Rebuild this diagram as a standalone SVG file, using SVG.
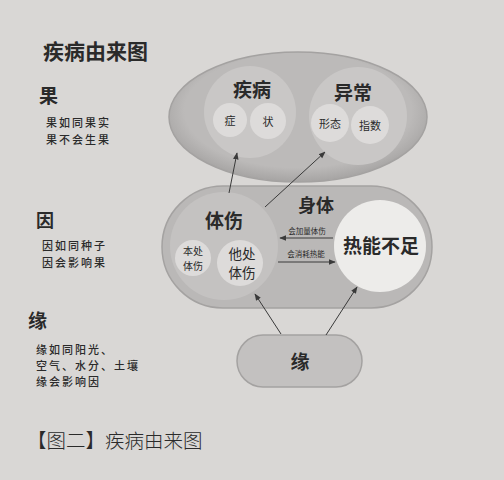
<svg xmlns="http://www.w3.org/2000/svg" width="504" height="480" viewBox="0 0 504 480">
<defs>
<style>
text{font-family:"Noto Sans CJK SC","Noto Sans",sans-serif;fill:#2a2a2a;text-anchor:middle}
.b{font-weight:700}
.l{text-anchor:start}
.d{font-size:11px;letter-spacing:2px;font-weight:500}
.mid{fill:#c9c7c6}
.sm{fill:#dddbda}
.conn{stroke:#3a3a3a;stroke-width:1;fill:none;marker-end:url(#ah)}
</style>
<marker id="ah" viewBox="0 0 10 10" refX="9" refY="5" markerWidth="7" markerHeight="7" orient="auto-start-reverse">
<path d="M0,1 L10,5 L0,9 z" fill="#3a3a3a"/>
</marker>
<radialGradient id="gTop" cx="50%" cy="45%" r="55%">
<stop offset="0.8" stop-color="#bcbab9"/>
<stop offset="1" stop-color="#a6a4a3"/>
</radialGradient>
</defs>
<rect width="504" height="480" fill="#d9d7d5"/>

<g id="legend">
<text class="l b" x="43" y="59" font-size="21" fill="#333">疾病由来图</text>
<text class="l b" x="39" y="103" font-size="19">果</text>
<text class="l d" x="46" y="127">果如同果实</text>
<text class="l d" x="46" y="144">果不会生果</text>
<text class="l b" x="36" y="227" font-size="18">因</text>
<text class="l d" x="42" y="250">因如同种子</text>
<text class="l d" x="42" y="267">因会影响果</text>
<text class="l b" x="28" y="328" font-size="19">缘</text>
<text class="l d" x="36" y="354" letter-spacing="1.5">缘如同阳光、</text>
<text class="l d" x="36" y="370" letter-spacing="1.5">空气、水分、土壤</text>
<text class="l d" x="36" y="386" letter-spacing="1.5">缘会影响因</text>
<text class="l" x="27" y="448" font-size="19.5" font-weight="300">【图二】疾病由来图</text>
</g>

<g id="node-guo">
<ellipse cx="298" cy="117" rx="129" ry="65" fill="url(#gTop)" stroke="#a4a2a1" stroke-width="1.5"/>
</g>
<g id="node-jibing">
<circle class="mid" cx="250" cy="112" r="46"/>
<text class="b" x="252" y="97" font-size="19">疾病</text>
<circle class="sm" cx="230" cy="120" r="17"/>
<text x="230" y="125" font-size="11">症</text>
<circle class="sm" cx="268" cy="121" r="18"/>
<text x="268" y="126" font-size="11">状</text>
</g>
<g id="node-yichang">
<circle class="mid" cx="358" cy="116" r="49"/>
<text class="b" x="353" y="100" font-size="19">异常</text>
<circle class="sm" cx="330" cy="123" r="19"/>
<text x="330" y="128" font-size="11">形态</text>
<circle class="sm" cx="370" cy="125" r="19"/>
<text x="370" y="130" font-size="11">指数</text>
</g>

<g id="node-yin">
<rect x="162" y="186" width="270" height="122" rx="61" fill="#bab8b7" stroke="#a4a2a1" stroke-width="1.5"/>
<text class="b" x="316" y="212" font-size="18">身体</text>
</g>
<g id="node-tishang">
<circle cx="224" cy="246" r="54" fill="#c4c2c1"/>
<text class="b" x="224" y="228" font-size="19">体伤</text>
<circle class="sm" cx="193" cy="258" r="18"/>
<text x="193" y="255" font-size="10">本处</text>
<text x="193" y="270" font-size="10">体伤</text>
<circle class="sm" cx="240" cy="263" r="23"/>
<text x="242" y="258.5" font-size="13.5">他处</text>
<text x="242" y="278" font-size="13.5">体伤</text>
</g>
<g id="node-reneng">
<circle cx="380" cy="246" r="46" fill="#edecea"/>
<text class="b" x="381" y="253" font-size="19">热能不足</text>
</g>

<g id="node-yuan">
<rect x="237" y="335" width="125" height="52" rx="26" fill="#c3c1c0" stroke="#a4a2a1" stroke-width="1.5"/>
<text class="b" x="300" y="369" font-size="19">缘</text>
</g>

<g id="connectors">
<line class="conn" x1="229" y1="193" x2="237" y2="153"/>
<line class="conn" x1="265" y1="207" x2="325" y2="152"/>
<line class="conn" x1="333" y1="238" x2="280" y2="238"/>
<line class="conn" x1="278" y1="262" x2="335" y2="262"/>
<line class="conn" x1="281" y1="334" x2="255" y2="294"/>
<line class="conn" x1="326" y1="335" x2="357" y2="287"/>
<text x="307" y="234" font-size="7.5">会加量体伤</text>
<text x="306" y="257" font-size="7.5">会消耗热能</text>
</g>
</svg>
